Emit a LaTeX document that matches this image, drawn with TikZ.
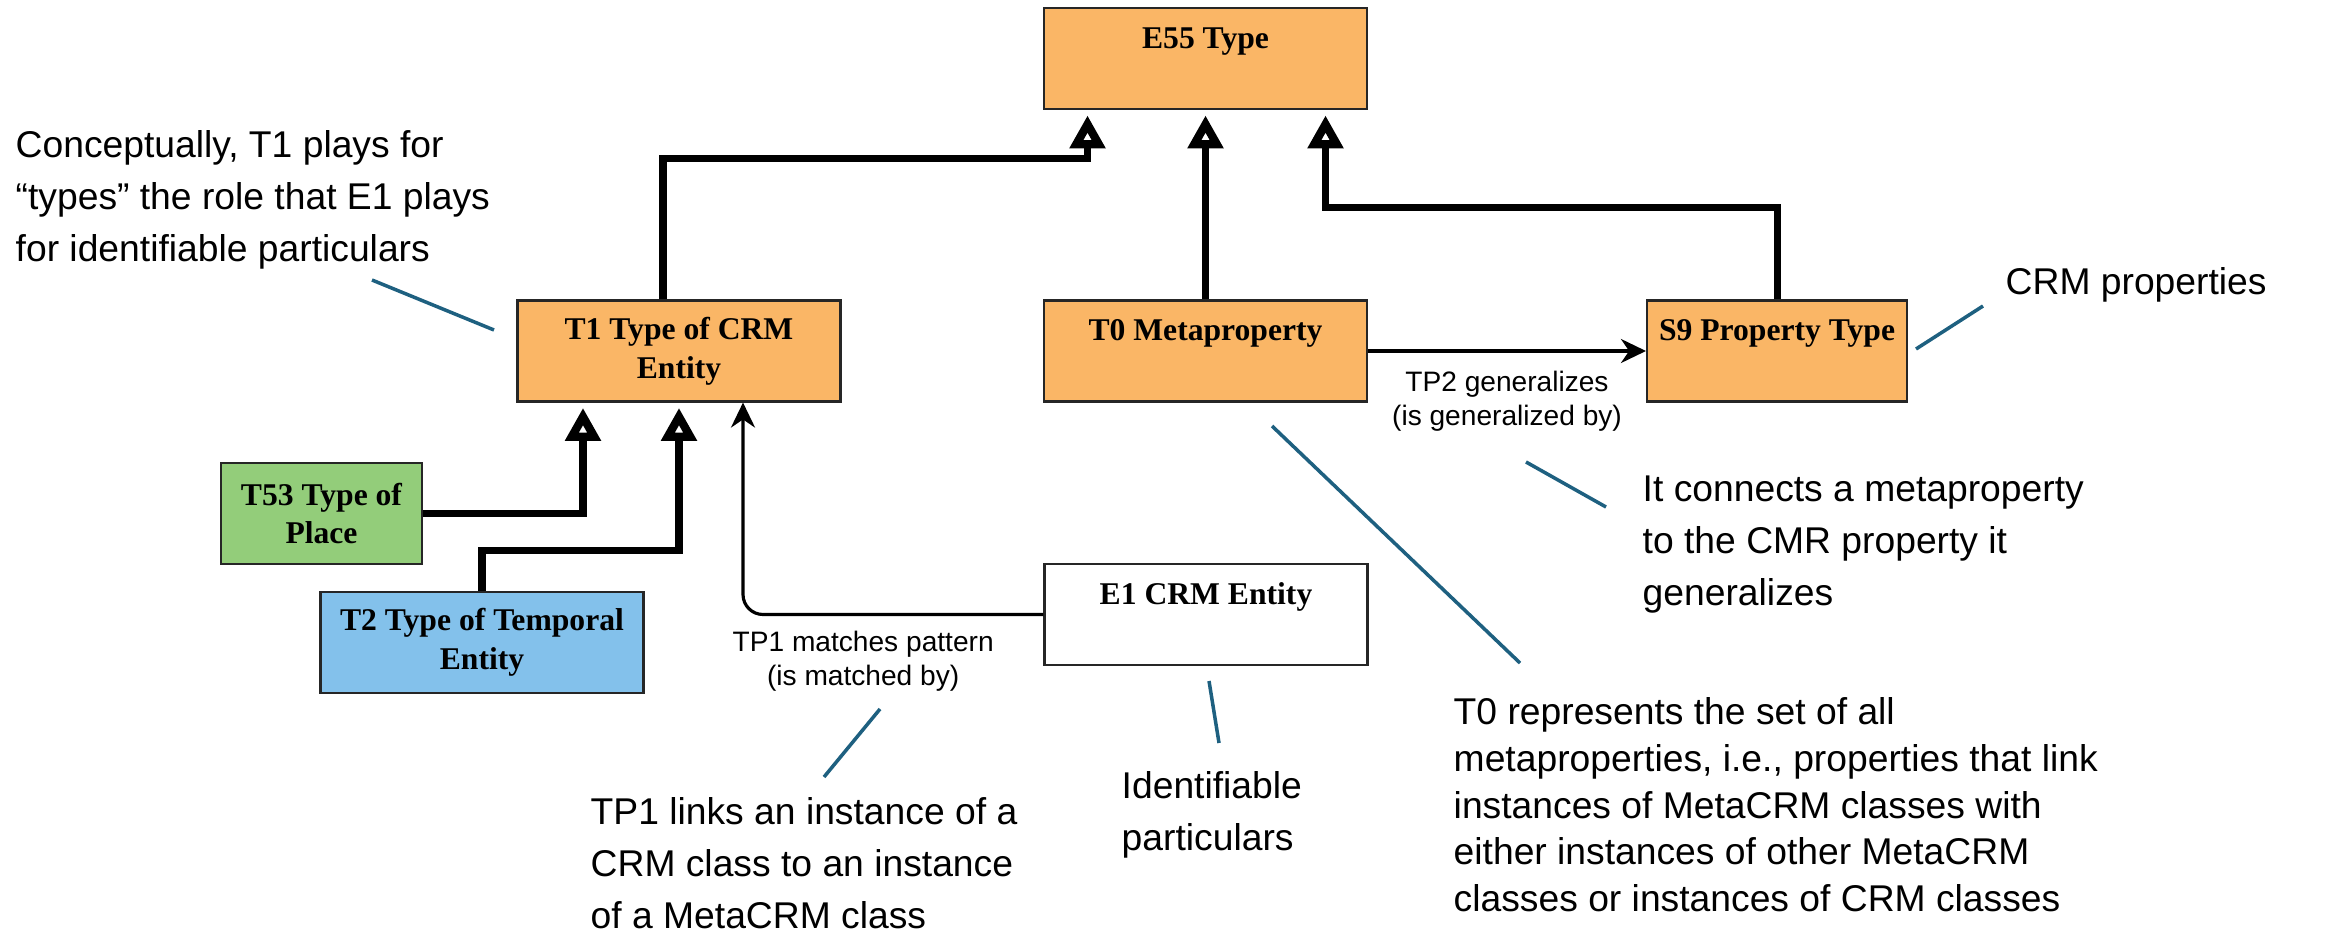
\documentclass[tikz,border=0pt]{standalone}
\usepackage{fontspec}
\setmainfont{Liberation Sans}
\newfontfamily\boxfont{Liberation Serif}
\usepackage{tikz}
\usetikzlibrary{arrows.meta,positioning}
\definecolor{boxorange}{RGB}{250,182,102}
\definecolor{boxgreen}{RGB}{147,205,122}
\definecolor{boxblue}{RGB}{131,193,235}
\definecolor{noteblue}{RGB}{30,96,128}
\tikzstyle{orangeblock}=[rectangle, draw=black!85, line width=0.6pt, fill=boxorange, align=center, minimum width=32.3mm, minimum height=10.1mm, inner sep=0pt, font=\boxfont\bfseries\fontsize{9}{11}\selectfont]
\tikzstyle{greenblock}=[orangeblock, fill=boxgreen, minimum width=20.1mm]
\tikzstyle{blueblock}=[orangeblock, fill=boxblue]
\tikzstyle{whiteblock}=[orangeblock, fill=white]
\tikzstyle{toptext}=[text height=0.22cm, text depth=0.42cm]
\tikzstyle{isa}=[line width=2pt, -{Triangle[open, length=0.33cm, width=0.34cm, line width=2.8pt]}, shorten >=1.5pt]
\tikzstyle{rel}=[line width=0.9pt, -{Stealth[length=0.25cm, width=0.24cm]}]
\tikzstyle{lbl}=[font=\fontsize{8}{9.6}\selectfont, align=center, inner sep=0pt]
\tikzstyle{note}=[draw=noteblue, line width=1pt]
\tikzstyle{notetext}=[align=left, anchor=north west, inner sep=0pt, font=\fontsize{10.6}{14.8}\selectfont]

\begin{document}
\begin{tikzpicture}

\useasboundingbox (0,0) rectangle (23.25,-9.33);

\node[orangeblock, toptext] (e55) at (12.055,-0.585) {E55 Type};
\node[orangeblock] (t1) at (6.79,-3.51) {T1 Type of CRM\\Entity};
\node[orangeblock, toptext] (t0) at (12.055,-3.51) {T0 Metaproperty};
\node[orangeblock, toptext, minimum width=26mm] (s9) at (17.77,-3.51) {S9 Property Type};
\node[greenblock] (t53) at (3.215,-5.135) {T53 Type of\\Place};
\node[blueblock] (t2) at (4.82,-6.425) {T2 Type of Temporal\\Entity};
\node[whiteblock, toptext] (e1) at (12.06,-6.145) {E1 CRM Entity};

%% subclass links
\draw[isa] ([xshift=-0.16cm]t1.north) -- ++(0,1.41) -| ([xshift=-1.18cm]e55.south);
\draw[isa] (t0.north) -- (e55.south);
\draw[isa] (s9.north) -- ++(0,0.92) -| ([xshift=1.2cm]e55.south);
\draw[isa] (t53.east) -| ([xshift=-0.96cm]t1.south);
\draw[isa] (t2.north) -- ++(0,0.40) -| (t1.south);

%% properties
\draw[rel, rounded corners=0.2cm] (e1.west) -| node[lbl, below=0.15cm, pos=0.3] {TP1 matches pattern\\(is matched by)} ([xshift=0.64cm]t1.south);
\draw[rel] (t0.east) -- node[lbl, below=0.19cm] {TP2 generalizes\\(is generalized by)} (s9.west);

%% comments
\node[notetext] (n1) at (0.15,-1.30) {Conceptually, T1 plays for\\“types” the role that E1 plays\\for identifiable particulars};
\node[notetext] (n2) at (20.05,-2.67) {CRM properties};
\node[notetext] (n3) at (16.42,-4.75) {It connects a metaproperty\\to the CMR property it\\generalizes};
\node[notetext, font=\fontsize{10.6}{13.3}\selectfont] (n4) at (14.53,-6.97) {T0 represents the set of all\\metaproperties, i.e., properties that link\\instances of MetaCRM classes with\\either instances of other MetaCRM\\classes or instances of CRM classes};
\node[notetext] (n5) at (11.21,-7.71) {Identifiable\\particulars};
\node[notetext] (n6) at (5.90,-7.97) {TP1 links an instance of a\\CRM class to an instance\\of a MetaCRM class};

\coordinate (c1a) at (3.72,-2.80); \coordinate (c1b) at (4.94,-3.30);
\coordinate (c2a) at (19.83,-3.06); \coordinate (c2b) at (19.16,-3.49);
\coordinate (c3a) at (15.26,-4.62); \coordinate (c3b) at (16.06,-5.07);
\coordinate (c4a) at (12.72,-4.26); \coordinate (c4b) at (15.20,-6.63);
\coordinate (c5a) at (12.09,-6.81); \coordinate (c5b) at (12.19,-7.43);
\coordinate (c6a) at (8.80,-7.09); \coordinate (c6b) at (8.24,-7.77);
\draw[note] (c1a) -- (c1b);
\draw[note] (c2a) -- (c2b);
\draw[note] (c3a) -- (c3b);
\draw[note] (c4a) -- (c4b);
\draw[note] (c5a) -- (c5b);
\draw[note] (c6a) -- (c6b);

\end{tikzpicture}
\end{document}
